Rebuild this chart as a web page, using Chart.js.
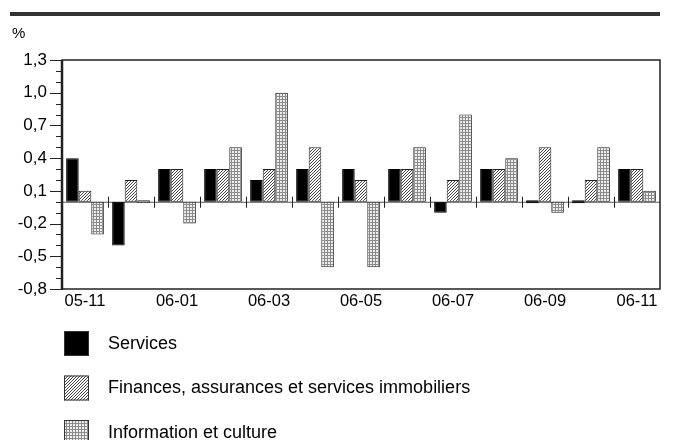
<!DOCTYPE html>
<html>
<head>
<meta charset="utf-8">
<script src="https://cdn.jsdelivr.net/npm/chart.js@4/dist/chart.umd.min.js"></script>
<style>
html,body{margin:0;padding:0;background:#fff;}
#wrap{position:relative;width:673px;height:440px;}
</style>
</head>
<body>
<div id="wrap"><canvas id="c" width="673" height="440"></canvas></div>
<script>
const categories = ['05-11','05-12','06-01','06-02','06-03','06-04','06-05','06-06','06-07','06-08','06-09','06-10','06-11'];
const seriesNames = ['Services','Finances, assurances et services immobiliers','Information et culture'];
const services = [0.4,-0.4,0.3,0.3,0.2,0.3,0.3,0.3,-0.1,0.3,0.0,0.0,0.3];
const finances = [0.1,0.2,0.3,0.3,0.3,0.5,0.2,0.3,0.2,0.3,0.5,0.2,0.3];
const information = [-0.3,0.0,-0.2,0.5,1.0,-0.6,-0.6,0.5,0.8,0.4,-0.1,0.5,0.1];
const yMin = -0.8, yMax = 1.3, yStep = 0.1;
const unitLabel = '%';

function hatchPattern(){
  const c = document.createElement('canvas'); c.width = 3; c.height = 3;
  const g = c.getContext('2d');
  g.fillStyle = '#fff'; g.fillRect(0,0,3,3);
  g.fillStyle = '#444';
  g.fillRect(2,0,1,1); g.fillRect(1,1,1,1); g.fillRect(0,2,1,1);
  return g.createPattern(c,'repeat');
}
function dotPattern(){
  const c = document.createElement('canvas'); c.width = 3; c.height = 3;
  const g = c.getContext('2d');
  g.fillStyle = '#eeeeee'; g.fillRect(0,0,3,3);
  g.fillStyle = '#8a8a8a'; g.fillRect(0,0,3,1); g.fillRect(0,0,1,3);
  return g.createPattern(c,'repeat');
}
const ctx0 = document.getElementById('c').getContext('2d');
const hatch = hatchPattern();
const dots = dotPattern();
const FONT = "'Liberation Sans', Arial, sans-serif";

const decor = {
  id: 'decor',
  beforeDatasetsDraw(chart){
    const {ctx, chartArea:a, scales:{x,y}} = chart;
    const y0 = y.getPixelForValue(0);
    ctx.save();
    ctx.strokeStyle = '#555'; ctx.lineWidth = 1;
    ctx.beginPath(); ctx.moveTo(a.left, y0+0.5); ctx.lineTo(a.right, y0+0.5); ctx.stroke();
    ctx.strokeStyle = '#222';
    for(let i=0;i<categories.length-1;i++){
      const xb = Math.round((x.getPixelForValue(i)+x.getPixelForValue(i+1))/2)+0.5;
      ctx.beginPath(); ctx.moveTo(xb, y0-5); ctx.lineTo(xb, y0+6); ctx.stroke();
    }
    ctx.restore();
  },
  afterDraw(chart){
    const {ctx, chartArea:a, scales:{y}} = chart;
    ctx.save();
    ctx.fillStyle = '#333'; ctx.fillRect(10, 12, 650, 4);
    ctx.fillStyle = '#000'; ctx.font = '15px ' + FONT; ctx.textBaseline = 'middle'; ctx.textAlign='left';
    ctx.fillText(unitLabel, 12, 34);
    ctx.strokeStyle = '#222'; ctx.lineWidth = 1.5;
    ctx.strokeRect(a.left, a.top, a.right-a.left, a.bottom-a.top);
    ctx.lineWidth = 2.5;
    ctx.beginPath(); ctx.moveTo(a.left, a.top); ctx.lineTo(a.left, a.bottom+1); ctx.stroke();
    ctx.lineWidth = 1;
    y.ticks.forEach(t=>{
      const v = Math.round(t.value*10);
      const major = ((v+8)%3===0);
      const py = Math.round(y.getPixelForValue(t.value))+0.5;
      ctx.beginPath(); ctx.moveTo(a.left - (major?12:6), py); ctx.lineTo(a.left, py); ctx.stroke();
    });
    const ds = chart.data.datasets;
    ds.forEach((d,i)=>{
      const by = 331 + i*44.5;
      ctx.fillStyle = d.backgroundColor;
      ctx.fillRect(64, by, 25, 25);
      ctx.strokeStyle = '#333'; ctx.lineWidth = 1;
      ctx.strokeRect(64.5, by+0.5, 24, 24);
      ctx.fillStyle = '#000'; ctx.font = '18px ' + FONT; ctx.textBaseline='middle'; ctx.textAlign='left';
      ctx.fillText(d.label, 108, by + 13);
    });
    ctx.restore();
  }
};

new Chart(ctx0, {
  type: 'bar',
  data: {
    labels: categories,
    datasets: [
      {label: seriesNames[0], data: services, backgroundColor: '#000', borderColor: '#000', borderWidth: 1, minBarLength: 3},
      {label: seriesNames[1], data: finances, backgroundColor: hatch, borderColor: '#222', borderWidth: 1, minBarLength: 3},
      {label: seriesNames[2], data: information, backgroundColor: dots, borderColor: '#222', borderWidth: 1, minBarLength: 3}
    ]
  },
  options: {
    responsive: false,
    animation: false,
    devicePixelRatio: 1,
    layout: {padding: {left: 0, top: 60, right: 13, bottom: 0}},
    datasets: {bar: {categoryPercentage: 0.82, barPercentage: 1.0, borderSkipped: false}},
    plugins: {legend: {display: false}, tooltip: {enabled: false}},
    scales: {
      x: {
        grid: {display: false, drawTicks: false},
        border: {display: false},
        ticks: {
          autoSkip: false, maxRotation: 0, minRotation: 0, padding: 3,
          color: '#000', font: {family: FONT, size: 16.5},
          callback: function(val, idx){ return idx % 2 === 0 ? categories[idx] : ''; }
        },
        afterFit(s){ s.height = 151; }
      },
      y: {
        min: yMin, max: yMax,
        grid: {display: false, drawTicks: false},
        border: {display: false},
        ticks: {
          stepSize: yStep, autoSkip: false, padding: 15,
          color: '#000', font: {family: FONT, size: 17},
          callback: function(value){
            const v = Math.round(value*10);
            if ((v+8)%3 !== 0) return '';
            return (v/10).toFixed(1).replace('.', ',');
          }
        },
        afterFit(s){ s.width = 62; }
      }
    }
  },
  plugins: [decor]
});
</script>
</body>
</html>
